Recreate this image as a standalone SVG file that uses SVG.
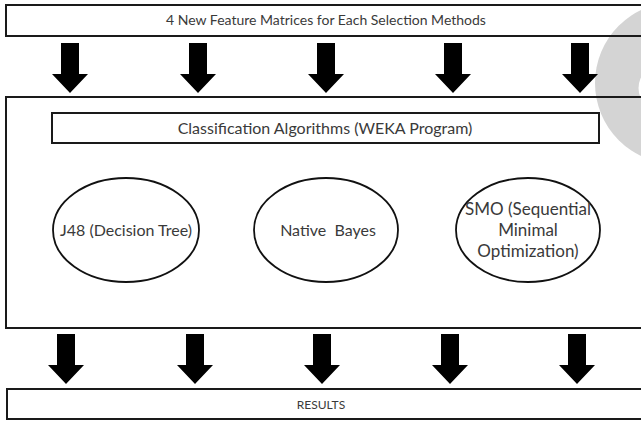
<svg xmlns="http://www.w3.org/2000/svg" width="641" height="421" viewBox="0 0 641 421">
<defs>
<style>
.box{fill:none;stroke:#1a1a1a;stroke-width:2}
.ell{fill:none;stroke:#111;stroke-width:1.8}
.arr{fill:#000}
text{font-family:Lato,"Open Sans","Liberation Sans",sans-serif;fill:#3a3a3a;text-anchor:middle}
.t1{font-size:14px}
.t2{font-size:16px}
.t3{font-size:12px}
.t4{font-size:17px}
</style>
<path id="a" d="M-9,0 H9 V31 H18 L0,50 L-18,31 H-9 Z"/>
</defs>
<rect width="641" height="421" fill="#fff"/>
<circle cx="676" cy="83" r="81" fill="#d4d4d4"/>
<circle cx="662" cy="88" r="23.5" fill="#fff"/>
<g id="input"><rect class="box" x="6" y="5" width="660" height="31"/><text class="t1" x="326" y="25">4 New Feature Matrices for Each Selection Methods</text></g>
<g id="classifiers"><rect class="box" x="6" y="97" width="660" height="231"/></g>
<g id="weka"><rect class="box" x="52" y="113" width="547" height="30"/><text class="t2" x="325" y="134">Classification Algorithms (WEKA Program)</text></g>
<g id="j48"><ellipse class="ell" cx="126" cy="230" rx="73" ry="52"/><text class="t2" x="126" y="236">J48 (Decision Tree)</text></g>
<g id="bayes"><ellipse class="ell" cx="326" cy="230" rx="72" ry="52"/><text class="t2" x="328" y="236" xml:space="preserve">Native  Bayes</text></g>
<g id="smo"><ellipse class="ell" cx="528" cy="230" rx="72" ry="52"/><text class="t4" x="528" y="215">SMO (Sequential</text><text class="t4" x="528" y="236">Minimal</text><text class="t4" x="528" y="257">Optimization)</text></g>
<g id="results"><rect class="box" x="7" y="389" width="660" height="30"/><text class="t3" x="321" y="409">RESULTS</text></g>
<g id="connectors" class="arr">
<use href="#a" x="70" y="43"/><use href="#a" x="198" y="43"/><use href="#a" x="326" y="43"/><use href="#a" x="453" y="43"/><use href="#a" x="580" y="43"/>
<use href="#a" x="66" y="334"/><use href="#a" x="195" y="334"/><use href="#a" x="322" y="334"/><use href="#a" x="450" y="334"/><use href="#a" x="577" y="334"/>
</g>
</svg>
